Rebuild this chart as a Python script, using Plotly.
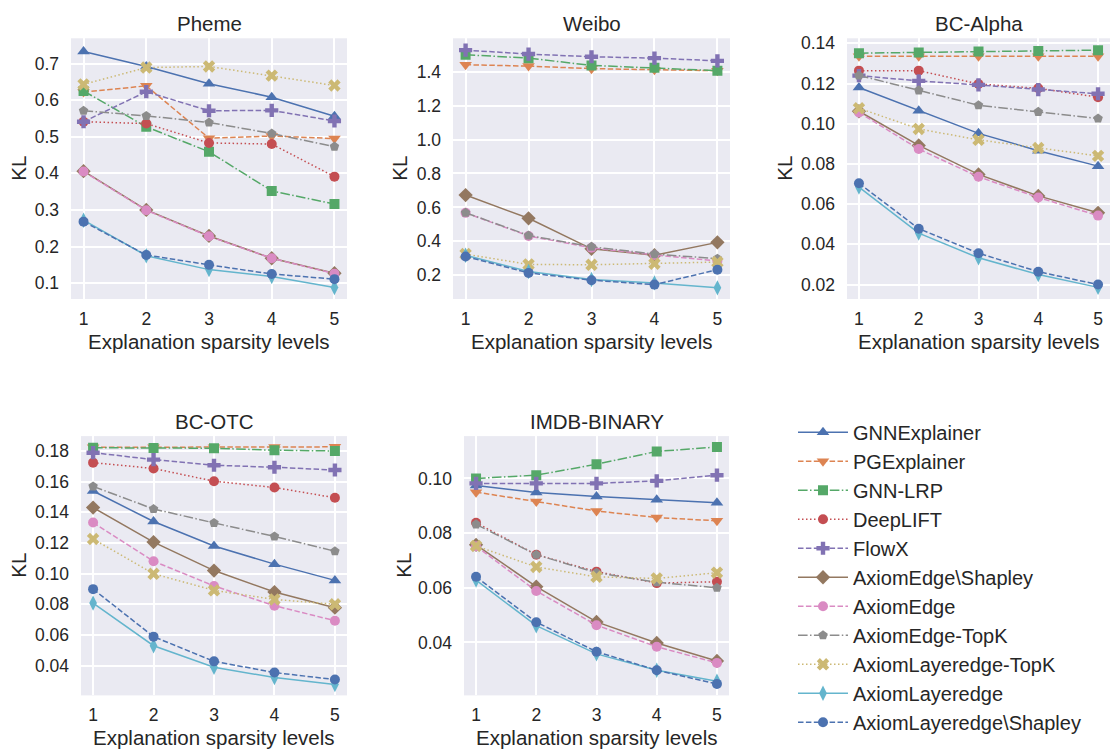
import plotly.graph_objects as go

levels = [1, 2, 3, 4, 5]
datasets = ["Pheme", "Weibo", "BC-Alpha", "BC-OTC", "IMDB-BINARY"]
methods = ["GNNExplainer", "PGExplainer", "GNN-LRP", "DeepLIFT", "FlowX",
           "AxiomEdge\\Shapley", "AxiomEdge", "AxiomEdge-TopK",
           "AxiomLayeredge-TopK", "AxiomLayeredge", "AxiomLayeredge\\Shapley"]

pheme = {
    "GNNExplainer": [0.733, 0.692, 0.645, 0.608, 0.556],
    "PGExplainer": [0.622, 0.639, 0.496, 0.502, 0.495],
    "GNN-LRP": [0.625, 0.527, 0.459, 0.352, 0.316],
    "DeepLIFT": [0.541, 0.536, 0.483, 0.480, 0.391],
    "FlowX": [0.541, 0.623, 0.571, 0.572, 0.543],
    "AxiomEdge\\Shapley": [0.406, 0.300, 0.229, 0.168, 0.127],
    "AxiomEdge": [0.405, 0.299, 0.228, 0.168, 0.126],
    "AxiomEdge-TopK": [0.571, 0.557, 0.539, 0.509, 0.473],
    "AxiomLayeredge-TopK": [0.643, 0.689, 0.692, 0.667, 0.640],
    "AxiomLayeredge": [0.272, 0.175, 0.137, 0.118, 0.088],
    "AxiomLayeredge\\Shapley": [0.268, 0.177, 0.150, 0.125, 0.111],
}
weibo = {
    "GNNExplainer": [None, None, None, None, None],
    "PGExplainer": [1.441, 1.433, 1.418, 1.412, 1.406],
    "GNN-LRP": [1.500, 1.480, 1.437, 1.423, 1.406],
    "DeepLIFT": [None, None, None, None, None],
    "FlowX": [1.527, 1.504, 1.488, 1.480, 1.464],
    "AxiomEdge\\Shapley": [0.673, 0.536, 0.356, 0.318, 0.394],
    "AxiomEdge": [0.568, 0.432, 0.362, 0.320, 0.285],
    "AxiomEdge-TopK": [0.569, 0.435, 0.368, 0.325, 0.298],
    "AxiomLayeredge-TopK": [0.325, 0.264, 0.262, 0.268, 0.278],
    "AxiomLayeredge": [0.318, 0.222, 0.175, 0.155, 0.126],
    "AxiomLayeredge\\Shapley": [0.311, 0.214, 0.171, 0.145, 0.233],
}
bc_alpha = {
    "GNNExplainer": [0.1180, 0.1065, 0.0952, 0.0866, 0.0789],
    "PGExplainer": [0.1336, 0.1336, 0.1336, 0.1336, 0.1336],
    "GNN-LRP": [0.1351, 0.1354, 0.1359, 0.1362, 0.1366],
    "DeepLIFT": [0.1264, 0.1264, 0.1198, 0.1176, 0.1132],
    "FlowX": [0.1239, 0.1213, 0.1193, 0.1170, 0.1149],
    "AxiomEdge\\Shapley": [0.1062, 0.0892, 0.0748, 0.0641, 0.0557],
    "AxiomEdge": [0.1056, 0.0874, 0.0736, 0.0633, 0.0543],
    "AxiomEdge-TopK": [0.1240, 0.1166, 0.1092, 0.1059, 0.1026],
    "AxiomLayeredge-TopK": [0.1077, 0.0974, 0.0920, 0.0879, 0.0840],
    "AxiomLayeredge": [0.0685, 0.0456, 0.0333, 0.0250, 0.0186],
    "AxiomLayeredge\\Shapley": [0.0704, 0.0478, 0.0356, 0.0264, 0.0200],
}
bc_otc = {
    "GNNExplainer": [0.1539, 0.1340, 0.1180, 0.1062, 0.0956],
    "PGExplainer": [0.1824, 0.1824, 0.1824, 0.1826, 0.1827],
    "GNN-LRP": [0.1821, 0.1820, 0.1818, 0.1805, 0.1800],
    "DeepLIFT": [0.1724, 0.1686, 0.1603, 0.1562, 0.1495],
    "FlowX": [0.1789, 0.1744, 0.1707, 0.1694, 0.1676],
    "AxiomEdge\\Shapley": [0.1431, 0.1206, 0.1020, 0.0880, 0.0778],
    "AxiomEdge": [0.1333, 0.1081, 0.0920, 0.0791, 0.0693],
    "AxiomEdge-TopK": [0.1569, 0.1422, 0.1331, 0.1243, 0.1146],
    "AxiomLayeredge-TopK": [0.1226, 0.0999, 0.0891, 0.0832, 0.0800],
    "AxiomLayeredge": [0.0808, 0.0530, 0.0390, 0.0322, 0.0277],
    "AxiomLayeredge\\Shapley": [0.0899, 0.0589, 0.0428, 0.0355, 0.0309],
}
imdb = {
    "GNNExplainer": [0.0974, 0.0949, 0.0934, 0.0922, 0.0911],
    "PGExplainer": [0.0950, 0.0916, 0.0881, 0.0857, 0.0845],
    "GNN-LRP": [0.1000, 0.1012, 0.1052, 0.1099, 0.1115],
    "DeepLIFT": [0.0838, 0.0721, 0.0659, 0.0617, 0.0622],
    "FlowX": [0.0982, 0.0982, 0.0982, 0.0991, 0.1012],
    "AxiomEdge\\Shapley": [0.0757, 0.0604, 0.0475, 0.0398, 0.0332],
    "AxiomEdge": [0.0752, 0.0588, 0.0463, 0.0384, 0.0325],
    "AxiomEdge-TopK": [0.0832, 0.0721, 0.0655, 0.0620, 0.0600],
    "AxiomLayeredge-TopK": [0.0753, 0.0676, 0.0640, 0.0634, 0.0655],
    "AxiomLayeredge": [0.0628, 0.0461, 0.0358, 0.0298, 0.0258],
    "AxiomLayeredge\\Shapley": [0.0640, 0.0474, 0.0366, 0.0298, 0.0248],
}
all_data = [pheme, weibo, bc_alpha, bc_otc, imdb]

colors = ["#4C72B0", "#DD8452", "#55A868", "#C44E52", "#8172B3", "#937860",
          "#DA8BC3", "#8C8C8C", "#CCB974", "#64B5CD", "#4C72B0"]
symbols = ["triangle-up", "triangle-down", "square", "circle", "cross", "diamond",
           "circle", "pentagon", "x", "diamond-tall", "circle"]
msizes = [11, 11, 10, 10, 11, 11, 10, 10, 11, 11, 10]
DASH = "5.5px,2.4px"
DOT = "1.5px,2.5px"
DASHDOT = "9.6px,2.4px,1.5px,2.4px"
dashes = ["solid", DASH, DASHDOT, DOT, DASH, "solid", DASH, DASHDOT, DOT, "solid", DASH]

W, H = 1114, 753
boxes = [(71, 347, 33.5, 296), (453, 730, 33.5, 296), (847, 1110, 33.5, 296),
         (81, 347, 434, 695), (464, 729, 434, 695)]
yranges = [[0.0566, 0.769], [0.06, 1.597], [0.0128, 0.1425], [0.0206, 0.1897], [0.0206, 0.1155]]
ydticks = [0.1, 0.2, 0.02, 0.02, 0.02]
yfmts = [".1f", ".1f", ".2f", ".2f", ".2f"]
ytick0 = [0.1, 0.2, 0.02, 0.04, 0.04]

TXT = "#262626"
FONT = "Liberation Sans, Arial, sans-serif"
LBL = 20.5

fig = go.Figure()
layout = dict(width=W, height=H, margin=dict(l=0, r=0, t=0, b=0),
              paper_bgcolor="white", plot_bgcolor="#EAEAF2",
              font=dict(family=FONT, color=TXT, size=17), showlegend=True)
annotations = []
for k, (ds, data) in enumerate(zip(datasets, all_data)):
    x0, x1, yt, yb = boxes[k]
    ax = "" if k == 0 else str(k + 1)
    layout["xaxis" + ax] = dict(domain=[x0 / W, x1 / W], anchor="y" + ax,
                                range=[0.8, 5.2], tickmode="array", tickvals=levels,
                                showgrid=True, gridcolor="white", gridwidth=1.5,
                                zeroline=False, showline=False, ticks="",
                                ticklabelstandoff=7, tickfont=dict(size=17.5))
    layout["yaxis" + ax] = dict(domain=[1 - yb / H, 1 - yt / H], anchor="x" + ax,
                                range=yranges[k], tick0=ytick0[k], dtick=ydticks[k],
                                tickformat=yfmts[k],
                                showgrid=True, gridcolor="white", gridwidth=1.5,
                                zeroline=False, showline=False, ticks="",
                                ticklabelstandoff=11, tickfont=dict(size=17.5))
    cx = (x0 + x1) / 2 / W
    annotations.append(dict(text=ds, x=cx, y=1 - (yt - 1.5) / H, xref="paper", yref="paper",
                            xanchor="center", yanchor="bottom", showarrow=False,
                            font=dict(size=LBL)))
    annotations.append(dict(text="Explanation sparsity levels", x=cx, y=1 - (yb + 29) / H,
                            xref="paper", yref="paper", xanchor="center", yanchor="top",
                            showarrow=False, font=dict(size=LBL)))
    for m, meth in enumerate(methods):
        fig.add_trace(go.Scatter(
            x=levels, y=data[meth], mode="lines+markers", name=meth,
            legendgroup=meth, showlegend=(k == 0),
            xaxis="x" + ax, yaxis="y" + ax,
            line=dict(color=colors[m], width=1.5, dash=dashes[m]),
            marker=dict(symbol=symbols[m], size=msizes[m], color=colors[m],
                        line=dict(width=0)),
        ))

kl_x = [19, 400, 785, 19, 404]
for k in range(5):
    x0, x1, yt, yb = boxes[k]
    annotations.append(dict(text="KL", x=kl_x[k] / W, y=1 - (yt + yb) / 2 / H,
                            xref="paper", yref="paper", xanchor="center", yanchor="middle",
                            textangle=-90, showarrow=False, font=dict(size=LBL)))

layout["annotations"] = annotations
layout["legend"] = dict(x=793 / W, y=1 - 410.5 / H, xanchor="left", yanchor="top",
                        bgcolor="rgba(0,0,0,0)", font=dict(size=20, color=TXT),
                        tracegroupgap=0, itemwidth=50)
fig.update_layout(**layout)
fig.write_html("out.html")
